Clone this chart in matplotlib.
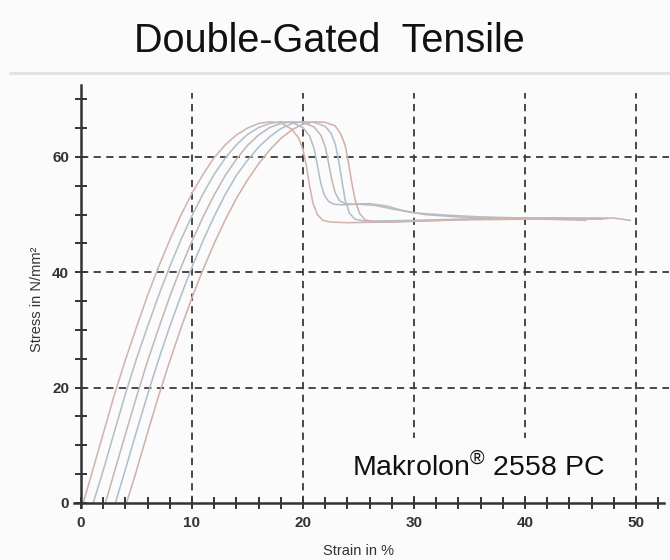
import numpy as np
import matplotlib
matplotlib.use('Agg')
import matplotlib.pyplot as plt
from matplotlib.lines import Line2D
from matplotlib.ticker import MultipleLocator

plt.rcParams['font.family'] = ['Liberation Sans', 'DejaVu Sans']
plt.rcParams['mathtext.fontset'] = 'custom'
plt.rcParams['mathtext.rm'] = 'Liberation Sans'

# five tensile specimens, strain in %, stress in N/mm2
strain_1 = [0.2, 1, 2, 3, 4, 5, 6, 7, 8, 9, 10, 11, 12, 13, 14, 15, 16, 17, 18, 19, 19.6, 20,
            20.3, 20.6, 20.9, 21.3, 21.8, 22.5, 24, 27, 30, 35, 40, 44, 46.5]
stress_1 = [0, 5.3, 12.0, 18.7, 24.8, 30.5, 36.0, 41.0, 45.6, 49.9, 53.7, 57.0, 59.9, 62.1, 63.8,
            65.0, 65.8, 66.1, 65.9, 64.8, 63.3, 61.3, 58.5, 55.0, 52.0, 50.0, 49.0, 48.7, 48.6,
            48.7, 48.9, 49.1, 49.2, 49.3, 49.2]

strain_2 = [1.1, 2, 3, 4, 5, 6, 7, 8, 9, 10, 11, 12, 13, 14, 15, 16, 17, 18, 19, 20, 20.6, 21,
            21.3, 21.6, 21.9, 22.3, 22.8, 23.5, 25, 26.5, 28, 30, 33, 36, 40, 44, 47]
stress_2 = [0, 5.6, 12.3, 18.9, 25.0, 30.6, 36.0, 41.0, 45.6, 49.8, 53.6, 57.0, 59.8, 62.1, 63.9,
            65.1, 65.8, 66.1, 66.0, 65.1, 63.6, 61.5, 58.5, 55.5, 53.5, 52.3, 51.8, 51.7, 51.8,
            51.6, 51.0, 50.3, 49.9, 49.6, 49.4, 49.3, 49.2]

strain_3 = [2.2, 3, 4, 5, 6, 7, 8, 9, 10, 11, 12, 13, 14, 15, 16, 17, 18, 19, 20, 21, 21.6, 22,
            22.3, 22.6, 22.9, 23.3, 23.8, 24.5, 26, 27.5, 29, 31, 34, 38, 42, 45.5]
stress_3 = [0, 5.3, 11.9, 18.4, 24.6, 30.3, 35.8, 40.8, 45.4, 49.6, 53.4, 56.8, 59.6, 62.0, 63.8,
            65.1, 65.8, 66.1, 66.0, 65.2, 63.8, 61.8, 59.0, 56.0, 53.8, 52.4, 51.9, 51.8, 51.9,
            51.5, 50.7, 50.0, 49.6, 49.4, 49.2, 49.0]

strain_4 = [3.1, 4, 5, 6, 7, 8, 9, 10, 11, 12, 13, 14, 15, 16, 17, 18, 19, 20, 21, 22, 22.5, 22.9,
            23.2, 23.5, 23.8, 24.2, 24.7, 25.5, 27, 30, 34, 38, 42, 47.5]
stress_4 = [0, 5.8, 12.4, 18.8, 24.9, 30.6, 35.9, 40.9, 45.5, 49.7, 53.5, 56.8, 59.4, 61.7, 63.5,
            64.9, 65.8, 66.1, 66.0, 65.3, 64.2, 62.3, 59.5, 56.0, 52.5, 50.2, 49.2, 48.9, 48.9,
            49.0, 49.2, 49.4, 49.4, 49.3]

strain_5 = [4.1, 5, 6, 7, 8, 9, 10, 11, 12, 13, 14, 15, 16, 17, 18, 19, 20, 21, 22, 22.9, 23.4,
            23.8, 24.1, 24.4, 24.7, 25.1, 25.6, 26.5, 28, 31, 35, 40, 45, 48, 49.5]
stress_5 = [0, 5.6, 12.2, 18.6, 24.6, 30.3, 35.6, 40.5, 45.0, 49.1, 52.8, 56.0, 58.8, 61.2, 63.2,
            64.7, 65.7, 66.1, 66.0, 65.4, 64.0, 62.0, 59.0, 55.5, 52.5, 50.2, 49.1, 48.7, 48.7,
            48.9, 49.2, 49.4, 49.4, 49.4, 49.0]

curves = [(strain_1, stress_1), (strain_2, stress_2), (strain_3, stress_3),
          (strain_4, stress_4), (strain_5, stress_5)]
curve_colors = ['#d2b4ae', '#b3bfca', '#c2b8ba', '#aec0d0', '#d0b2ab']

x_ticks = [0, 10, 20, 30, 40, 50]
y_ticks = [0, 20, 40, 60]

fig = plt.figure(figsize=(6.7, 5.6), dpi=100)
fig.patch.set_facecolor('#fbfbfb')

ax = fig.add_axes([0.1043, 0.0915, 0.8946, 0.757])
ax.set_facecolor('#fbfbfb')
ax.set_xlim(-1.0, 53.0)
ax.set_ylim(-1.0, 72.5)

for (sx, sy), c in zip(curves, curve_colors):
    ax.plot(sx, sy, color=c, lw=1.15, solid_capstyle='round', zorder=3)

# dashed grid
for xv in x_ticks[1:]:
    ax.plot([xv, xv], [0, 71], color='#3a3a3a', lw=1.3, dashes=(4, 3), zorder=2)
for yv in y_ticks[1:]:
    ax.plot([0, 53], [yv, yv], color='#3a3a3a', lw=1.3, dashes=(4, 3), zorder=2)

for s in ['top', 'right']:
    ax.spines[s].set_visible(False)
ax.spines['left'].set_position(('data', 0))
ax.spines['bottom'].set_position(('data', 0))
ax.spines['left'].set_bounds(-0.7, 72.5)
ax.spines['bottom'].set_bounds(-0.6, 52.5)
for s in ['left', 'bottom']:
    ax.spines[s].set_linewidth(1.8)
    ax.spines[s].set_color('#333333')
    ax.spines[s].set_zorder(4)

ax.set_xticks(x_ticks)
ax.set_yticks(y_ticks)
ax.xaxis.set_minor_locator(MultipleLocator(2))
ax.yaxis.set_minor_locator(MultipleLocator(5))
ax.tick_params(which='both', direction='inout', length=9, width=1.4, color='#333333')
ax.tick_params(axis='x', pad=5)
ax.tick_params(axis='y', pad=4)
tick_font = dict(family=['Liberation Sans Narrow', 'Liberation Sans'], weight='bold', size=11)
ax.set_xticklabels([str(v) for v in x_ticks], color='#333333', **tick_font)
ax.set_yticklabels([str(v) for v in y_ticks], color='#333333', **tick_font)

ax.text(25.0, -8.3, 'Strain in %', ha='center', va='center', color='#333333',
        family=['Liberation Sans Narrow', 'Liberation Sans'], size=10.5)
fig.text(0.055, 0.465, 'Stress in N/mm²', rotation=90, ha='center', va='center',
         color='#333333', family=['Liberation Sans Narrow', 'Liberation Sans'], size=10.5)

ax.text(35.8, 6.2, 'Makrolon$^{®}$ 2558 PC', ha='center', va='center', size=20.5,
        color='#111111', zorder=5,
        bbox=dict(boxstyle='square,pad=0.5', fc='#fbfbfb', ec='none'))

fig.text(0.491, 1 - 41 / 560, 'Double-Gated  Tensile', ha='center', va='center',
         size=28.5, color='#111111')
fig.add_artist(Line2D([0.015, 1.0], [1 - 73 / 560, 1 - 73 / 560], transform=fig.transFigure,
                      color='#e2e2e2', lw=2))

fig.savefig('out.png', dpi=100, facecolor=fig.get_facecolor())
